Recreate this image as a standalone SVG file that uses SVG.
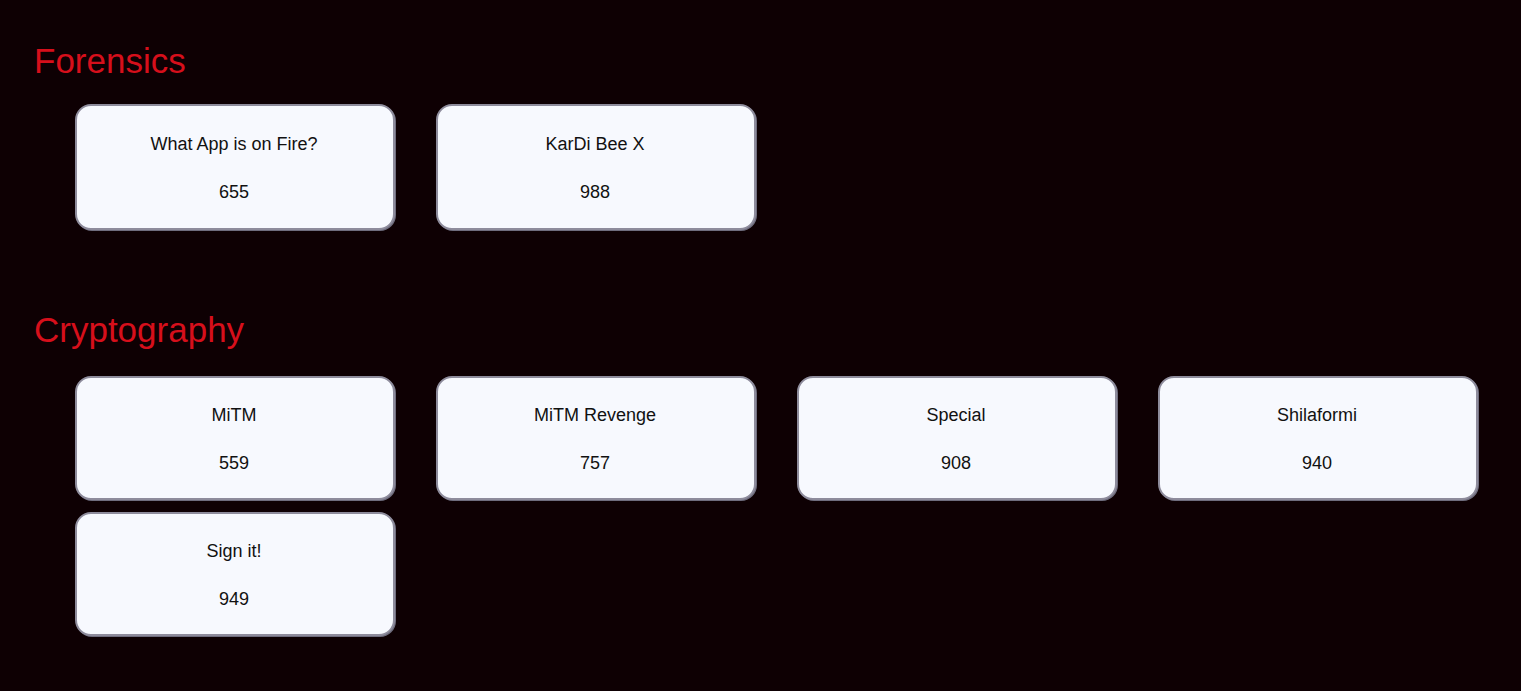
<svg xmlns="http://www.w3.org/2000/svg" width="1521" height="691" viewBox="0 0 1521 691">
<defs>
<style>
.bg{fill:#0e0003}
.h{font-family:"Liberation Sans",Arial,sans-serif;font-size:35px;fill:#d60f1b}
.sh{fill:none;stroke:#6f6d7e;stroke-width:2}
.card{fill:#f7f9fe;stroke:#8e8c9c;stroke-width:2}
.t{font-family:"Liberation Sans",Arial,sans-serif;font-size:18px;fill:#111;text-anchor:middle}
</style>
</defs>
<rect class="bg" x="0" y="0" width="1521" height="691"/>
<text class="h" x="34" y="73">Forensics</text>
<text class="h" x="34" y="342">Cryptography</text>
<g id="node-what-app">
<rect class="sh" x="77" y="106" width="318" height="124" rx="15"/>
<rect class="card" x="76" y="105" width="318" height="124" rx="15"/>
<text class="t" x="234" y="150">What App is on Fire?</text>
<text class="t" x="234" y="198">655</text>
</g>
<g id="node-kardi">
<rect class="sh" x="438" y="106" width="318" height="124" rx="15"/>
<rect class="card" x="437" y="105" width="318" height="124" rx="15"/>
<text class="t" x="595" y="150">KarDi Bee X</text>
<text class="t" x="595" y="198">988</text>
</g>
<g id="node-mitm">
<rect class="sh" x="77" y="378" width="318" height="122" rx="15"/>
<rect class="card" x="76" y="377" width="318" height="122" rx="15"/>
<text class="t" x="234" y="421">MiTM</text>
<text class="t" x="234" y="469">559</text>
</g>
<g id="node-mitm-revenge">
<rect class="sh" x="438" y="378" width="318" height="122" rx="15"/>
<rect class="card" x="437" y="377" width="318" height="122" rx="15"/>
<text class="t" x="595" y="421">MiTM Revenge</text>
<text class="t" x="595" y="469">757</text>
</g>
<g id="node-special">
<rect class="sh" x="799" y="378" width="318" height="122" rx="15"/>
<rect class="card" x="798" y="377" width="318" height="122" rx="15"/>
<text class="t" x="956" y="421">Special</text>
<text class="t" x="956" y="469">908</text>
</g>
<g id="node-shilaformi">
<rect class="sh" x="1160" y="378" width="318" height="122" rx="15"/>
<rect class="card" x="1159" y="377" width="318" height="122" rx="15"/>
<text class="t" x="1317" y="421">Shilaformi</text>
<text class="t" x="1317" y="469">940</text>
</g>
<g id="node-sign-it">
<rect class="sh" x="77" y="514" width="318" height="122" rx="15"/>
<rect class="card" x="76" y="513" width="318" height="122" rx="15"/>
<text class="t" x="234" y="557">Sign it!</text>
<text class="t" x="234" y="605">949</text>
</g>
<g id="connectors"/>
</svg>
